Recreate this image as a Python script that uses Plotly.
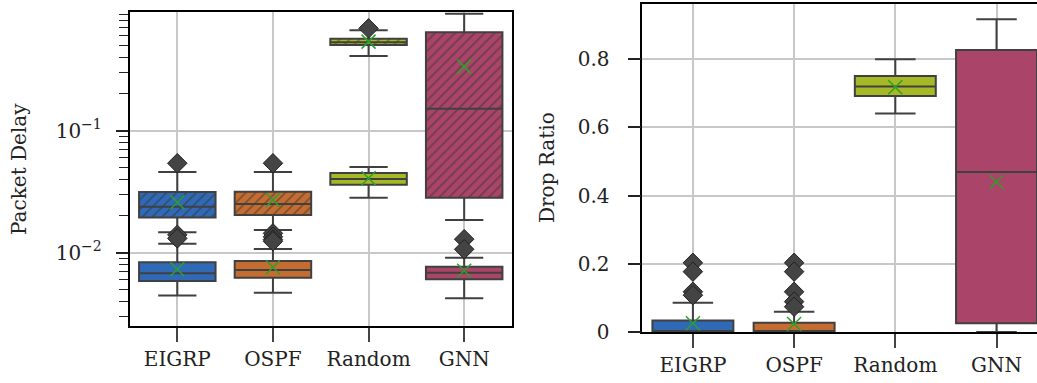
import plotly.graph_objects as go

categories = ["EIGRP", "OSPF", "Random", "GNN"]
colors = ["#3069b6", "#c56d30", "#a6b825", "#aa4468"]

# Packet delay, hatched group (upper)
dh_q1 = [0.0194, 0.0204, 0.504, 0.0282]
dh_med = [0.0238, 0.0251, 0.531, 0.151]
dh_q3 = [0.0315, 0.0316, 0.5675, 0.64]
dh_lo = [0.0147, 0.01535, 0.409, 0.0185]
dh_hi = [0.0458, 0.0458, 0.665, 0.91]
dh_mean = [0.0259, 0.0270, 0.537, 0.335]
dh_out = {"EIGRP": [0.0541], "OSPF": [0.0541], "Random": [0.690], "GNN": []}

# Packet delay, solid group (lower)
ds_q1 = [0.00586, 0.00624, 0.0361, 0.00605]
ds_med = [0.00678, 0.00721, 0.0402, 0.00685]
ds_q3 = [0.00834, 0.00855, 0.045, 0.00767]
ds_lo = [0.00445, 0.0047, 0.0282, 0.00423]
ds_hi = [0.01186, 0.01072, 0.0504, 0.0091]
ds_mean = [0.00731, 0.00759, 0.0407, 0.00711]
ds_out = {"EIGRP": [0.0140, 0.0131], "OSPF": [0.0144, 0.0135, 0.0128, 0.0124],
          "Random": [], "GNN": [0.0129, 0.01067]}

# Drop ratio
r_q1 = [0.0, 0.0, 0.6925, 0.0255]
r_med = [0.0, 0.0, 0.72, 0.4695]
r_q3 = [0.034, 0.0274, 0.751, 0.827]
r_lo = [0.0, 0.0, 0.641, 0.0]
r_hi = [0.086, 0.0596, 0.80, 0.9175]
r_mean = [0.0255, 0.0235, 0.718, 0.44]
r_out = {"EIGRP": [0.203, 0.177, 0.118, 0.108], "OSPF": [0.203, 0.177, 0.118, 0.089, 0.074],
         "Random": [], "GNN": []}

EDGE = "#404040"
MEAN_C = "#2ca02c"
FONT = "'DejaVu Serif', 'Liberation Serif', serif"
FS = 20

fig = go.Figure()


def add_boxes(q1, med, q3, lo, hi, xa, ya, hatched):
    for i, c in enumerate(categories):
        if hatched:
            fig.add_trace(go.Bar(
                x=[c], y=[q3[i] - q1[i]], base=[q1[i]], width=0.8,
                marker=dict(color=colors[i], line=dict(width=0),
                            pattern=dict(shape="/", fgcolor="#333333", size=7, solidity=0.25)),
                xaxis=xa, yaxis=ya, showlegend=False, hoverinfo="skip"))
        fig.add_trace(go.Box(
            x=[c], q1=[q1[i]], median=[med[i]], q3=[q3[i]],
            lowerfence=[lo[i]], upperfence=[hi[i]],
            boxpoints=False, width=0.8, whiskerwidth=0.5,
            fillcolor="rgba(0,0,0,0)" if hatched else colors[i],
            line=dict(color=EDGE, width=2),
            xaxis=xa, yaxis=ya, showlegend=False))


def add_points(out, mean, xa, ya):
    xs, ys = [], []
    for c in categories:
        for v in out[c]:
            xs.append(c)
            ys.append(v)
    if xs:
        fig.add_trace(go.Scatter(
            x=xs, y=ys, mode="markers", xaxis=xa, yaxis=ya, showlegend=False,
            marker=dict(symbol="diamond", size=15, color="#444444",
                        line=dict(color="#222222", width=1))))
    fig.add_trace(go.Scatter(
        x=categories, y=mean, mode="markers", xaxis=xa, yaxis=ya, showlegend=False,
        marker=dict(symbol="x-thin", size=14, color=MEAN_C,
                    line=dict(color=MEAN_C, width=1.5))))


add_boxes(ds_q1, ds_med, ds_q3, ds_lo, ds_hi, "x", "y", False)
add_boxes(dh_q1, dh_med, dh_q3, dh_lo, dh_hi, "x", "y", True)
add_points(dh_out, dh_mean, "x", "y")
add_points(ds_out, ds_mean, "x", "y")

add_boxes(r_q1, r_med, r_q3, r_lo, r_hi, "x2", "y2", False)
add_points(r_out, r_mean, "x2", "y2")

H = 383
W = 1037
common_x = dict(type="category", categoryorder="array", categoryarray=categories,
                showgrid=True, gridcolor="#c8c8c8", gridwidth=1.5,
                ticks="outside", ticklen=14, tickcolor="#444444", tickwidth=1.5,
                showline=True, linecolor="black", linewidth=1.5, automargin=False,
                tickfont=dict(family=FONT, size=FS, color="#222222"), zeroline=False)

minor_vals = [k * 10 ** e for e in (-3, -2, -1) for k in range(2, 10)]
fig.update_layout(
    width=W, height=H, margin=dict(l=0, r=0, t=0, b=0, autoexpand=False),
    paper_bgcolor="white", plot_bgcolor="white",
    boxmode="overlay", barmode="overlay",
    xaxis=dict(common_x, domain=[129.5 / W, 512 / W], range=[-0.5, 3.5], mirror=True),
    yaxis=dict(type="log", range=[-2.601, -0.027], domain=[(H - 326) / H, (H - 12) / H],
               tickvals=[0.01, 0.1], ticktext=["10<sup>−2</sup>", "10<sup>−1</sup>"],
               showgrid=True, gridcolor="#c8c8c8", gridwidth=1.5, automargin=False,
               ticks="outside", ticklen=12, tickcolor="#222222", tickwidth=1.5,
               ticklabelstandoff=10,
               minor=dict(tickvals=minor_vals, ticks="outside", ticklen=9,
                          tickcolor="#222222", tickwidth=1.2, showgrid=False),
               showline=True, linecolor="black", linewidth=1.5, mirror=True,
               tickfont=dict(family=FONT, size=FS, color="#222222"), zeroline=False),
    xaxis2=dict(common_x, domain=[642.3 / W, 1.0], range=[-0.5, 3.4], anchor="y2", mirror=True),
    yaxis2=dict(range=[0, 0.962], domain=[(H - 332) / H, (H - 4) / H], anchor="x2",
                tickvals=[0, 0.2, 0.4, 0.6, 0.8], ticktext=["0", "0.2", "0.4", "0.6", "0.8"],
                showgrid=True, gridcolor="#c8c8c8", gridwidth=1.5, automargin=False,
                ticks="outside", ticklen=13, tickcolor="#222222", tickwidth=1.5,
                ticklabelstandoff=14,
                showline=True, linecolor="black", linewidth=1.5, mirror=True,
                tickfont=dict(family=FONT, size=FS, color="#222222"), zeroline=False),
    annotations=[
        dict(text="Packet Delay", x=19 / W, y=(H - 169) / H, xref="paper", yref="paper",
             textangle=-90, showarrow=False, font=dict(family=FONT, size=FS, color="#222222"),
             xanchor="center", yanchor="middle"),
        dict(text="Drop Ratio", x=547 / W, y=(H - 168) / H, xref="paper", yref="paper",
             textangle=-90, showarrow=False, font=dict(family=FONT, size=FS, color="#222222"),
             xanchor="center", yanchor="middle"),
    ],
)

fig.write_html("out.html")
